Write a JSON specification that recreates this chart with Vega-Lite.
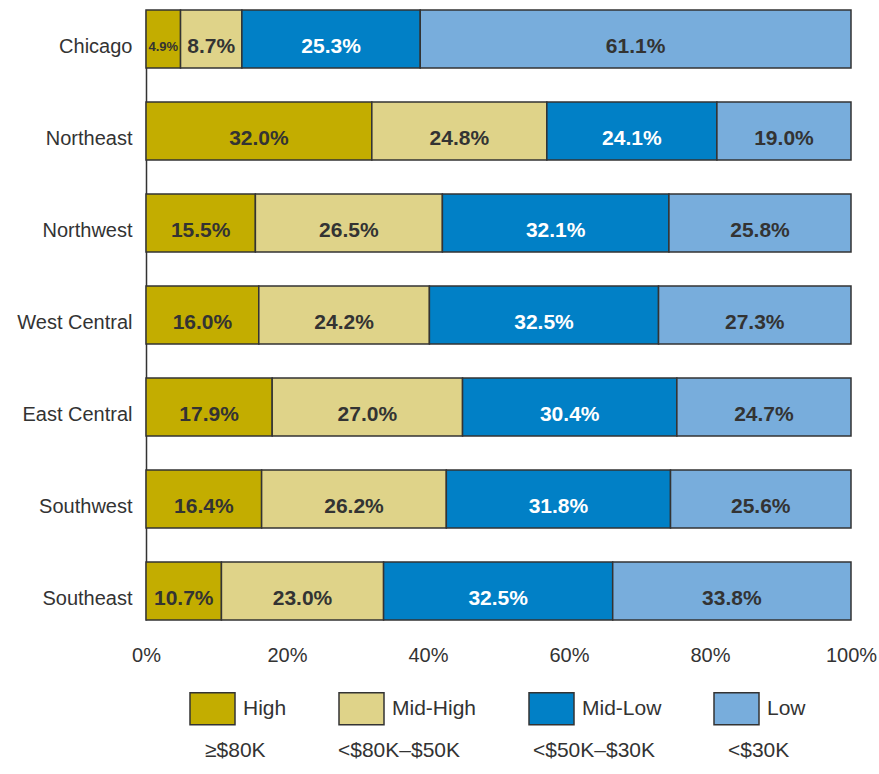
{
  "$schema": "https://vega.github.io/schema/vega-lite/v6.json",
  "width": 705,
  "height": 610,
  "autosize": {"type": "none"},
  "padding": {"left": 146, "top": 10, "right": 28, "bottom": 154},
  "background": "white",
  "config": {
    "view": {"stroke": null},
    "font": "Liberation Sans, Arial, sans-serif"
  },
  "data": {
    "values": [
      {"region": "Chicago", "income": "High", "range": "≥$80K", "pct": 4.9},
      {"region": "Chicago", "income": "Mid-High", "range": "<$80K–$50K", "pct": 8.7},
      {"region": "Chicago", "income": "Mid-Low", "range": "<$50K–$30K", "pct": 25.3},
      {"region": "Chicago", "income": "Low", "range": "<$30K", "pct": 61.1},
      {"region": "Northeast", "income": "High", "range": "≥$80K", "pct": 32.0},
      {"region": "Northeast", "income": "Mid-High", "range": "<$80K–$50K", "pct": 24.8},
      {"region": "Northeast", "income": "Mid-Low", "range": "<$50K–$30K", "pct": 24.1},
      {"region": "Northeast", "income": "Low", "range": "<$30K", "pct": 19.0},
      {"region": "Northwest", "income": "High", "range": "≥$80K", "pct": 15.5},
      {"region": "Northwest", "income": "Mid-High", "range": "<$80K–$50K", "pct": 26.5},
      {"region": "Northwest", "income": "Mid-Low", "range": "<$50K–$30K", "pct": 32.1},
      {"region": "Northwest", "income": "Low", "range": "<$30K", "pct": 25.8},
      {"region": "West Central", "income": "High", "range": "≥$80K", "pct": 16.0},
      {"region": "West Central", "income": "Mid-High", "range": "<$80K–$50K", "pct": 24.2},
      {"region": "West Central", "income": "Mid-Low", "range": "<$50K–$30K", "pct": 32.5},
      {"region": "West Central", "income": "Low", "range": "<$30K", "pct": 27.3},
      {"region": "East Central", "income": "High", "range": "≥$80K", "pct": 17.9},
      {"region": "East Central", "income": "Mid-High", "range": "<$80K–$50K", "pct": 27.0},
      {"region": "East Central", "income": "Mid-Low", "range": "<$50K–$30K", "pct": 30.4},
      {"region": "East Central", "income": "Low", "range": "<$30K", "pct": 24.7},
      {"region": "Southwest", "income": "High", "range": "≥$80K", "pct": 16.4},
      {"region": "Southwest", "income": "Mid-High", "range": "<$80K–$50K", "pct": 26.2},
      {"region": "Southwest", "income": "Mid-Low", "range": "<$50K–$30K", "pct": 31.8},
      {"region": "Southwest", "income": "Low", "range": "<$30K", "pct": 25.6},
      {"region": "Southeast", "income": "High", "range": "≥$80K", "pct": 10.7},
      {"region": "Southeast", "income": "Mid-High", "range": "<$80K–$50K", "pct": 23.0},
      {"region": "Southeast", "income": "Mid-Low", "range": "<$50K–$30K", "pct": 32.5},
      {"region": "Southeast", "income": "Low", "range": "<$30K", "pct": 33.8}
    ]
  },
  "encoding": {
    "y": {
      "field": "region",
      "type": "nominal",
      "sort": ["Chicago", "Northeast", "Northwest", "West Central", "East Central", "Southwest", "Southeast"],
      "scale": {"paddingInner": 0.37, "paddingOuter": 0},
      "axis": {
        "title": null,
        "ticks": false,
        "domainColor": "#333333",
        "domainWidth": 1.5,
        "labelFontSize": 20,
        "labelColor": "#333333",
        "labelPadding": 14,
        "labelOffset": 8,
        "labelLimit": 300
      }
    },
    "order": {"field": "region"}
  },
  "layer": [
    {
      "mark": {"type": "bar", "stroke": "#333333", "strokeWidth": 1.5},
      "encoding": {
        "x": {
          "field": "pct",
          "type": "quantitative",
          "stack": "normalize",
          "scale": {"domain": [0, 1], "nice": false},
          "axis": {
            "title": null,
            "format": ".0%",
            "values": [0, 0.2, 0.4, 0.6, 0.8, 1],
            "domain": false,
            "ticks": false,
            "grid": false,
            "labelFlush": false,
            "labelFontSize": 20,
            "labelColor": "#333333",
            "labelPadding": 25
          }
        },
        "color": {
          "field": "income",
          "type": "nominal",
          "sort": ["High", "Mid-High", "Mid-Low", "Low"],
          "scale": {
            "domain": ["High", "Mid-High", "Mid-Low", "Low"],
            "range": ["#C3AD00", "#DFD389", "#0180C6", "#78ADDC"]
          },
          "legend": {
            "title": null,
            "orient": "none",
            "legendX": 43,
            "legendY": 675,
            "direction": "horizontal",
            "columns": 4,
            "padding": 0,
            "symbolType": "M-1,-0.711H1V0.711H-1Z",
            "symbolSize": 2025,
            "symbolStrokeColor": "#333333",
            "symbolStrokeWidth": 1.5,
            "symbolOpacity": 1,
            "labelFontSize": 21,
            "labelColor": "#333333",
            "labelOffset": 7,
            "columnPadding": 49,
            "labelLimit": 300
          }
        }
      }
    },
    {
      "mark": {
        "type": "text",
        "fontWeight": "bold",
        "baseline": "middle",
        "align": "center",
        "dy": 8,
        "text": {"expr": "format(datum.pct, '.1f') + '%'"}
      },
      "encoding": {
        "x": {"field": "pct", "type": "quantitative", "stack": "normalize", "bandPosition": 0.5},
        "color": {
          "condition": {"test": "datum.income === 'Mid-Low'", "value": "white"},
          "value": "#333333"
        },
        "size": {
          "condition": {"test": "datum.pct < 6", "value": 13},
          "value": 21
        }
      }
    },
    {
      "mark": {"type": "point", "opacity": 0},
      "encoding": {
        "x": {"field": "pct", "type": "quantitative", "stack": "normalize"},
        "shape": {
          "field": "range",
          "type": "nominal",
          "sort": ["≥$80K", "<$80K–$50K", "<$50K–$30K", "<$30K"],
          "legend": {
            "title": null,
            "orient": "none",
            "legendX": 38,
            "legendY": 730,
            "direction": "horizontal",
            "columns": 4,
            "padding": 0,
            "symbolSize": 0,
            "symbolOpacity": 0,
            "symbolStrokeWidth": 0,
            "labelOffset": 0,
            "labelFontSize": 21,
            "labelColor": "#333333",
            "columnPadding": 51,
            "labelLimit": 300
          }
        }
      }
    }
  ]
}
